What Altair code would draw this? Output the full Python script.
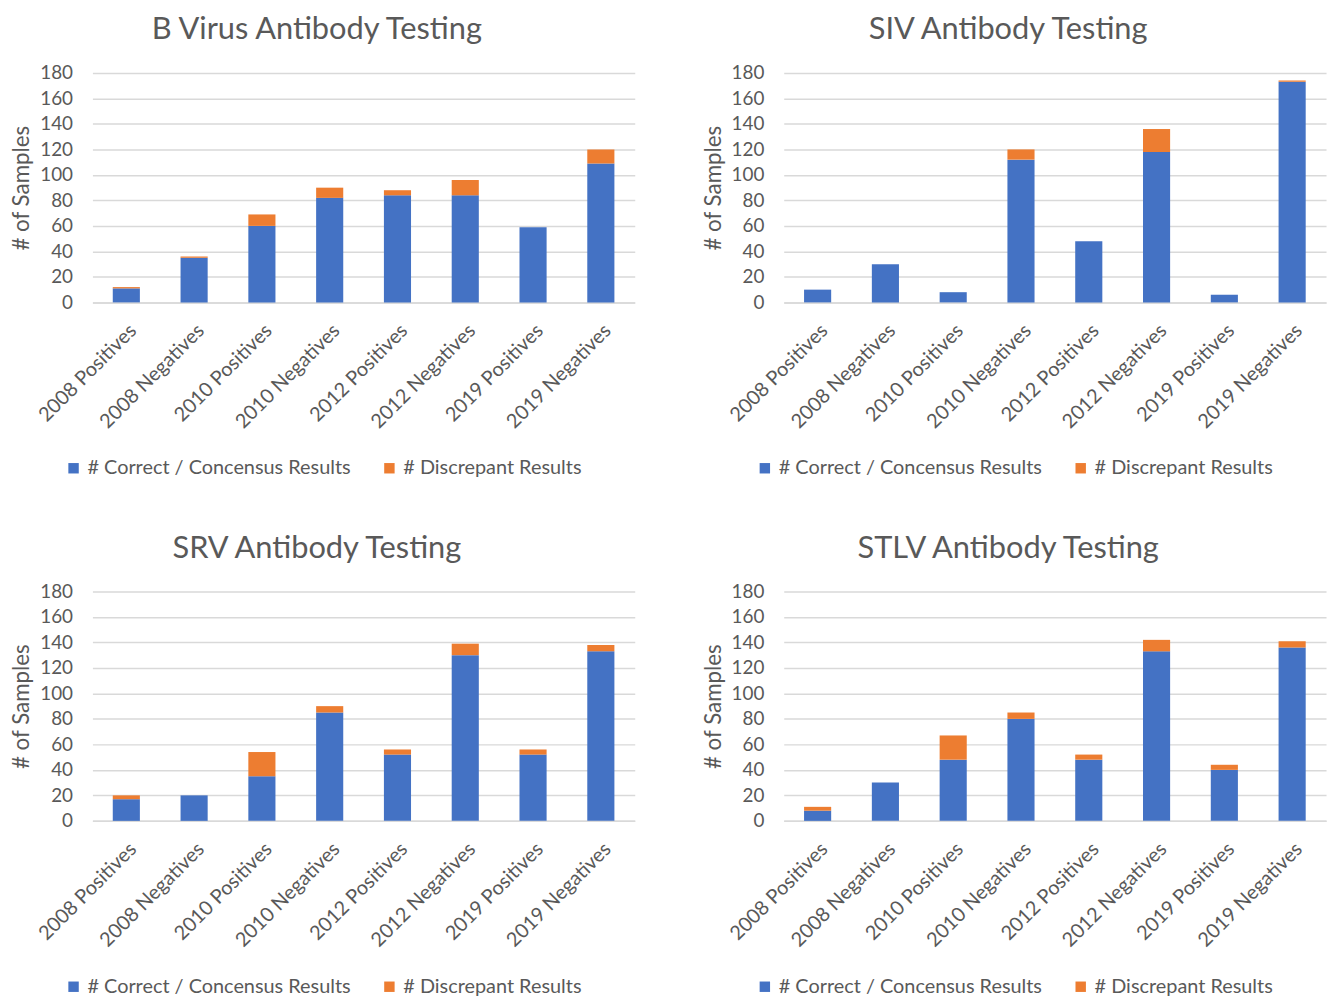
import altair as alt
import pandas as pd

categories = ["2008 Positives", "2008 Negatives", "2010 Positives", "2010 Negatives",
              "2012 Positives", "2012 Negatives", "2019 Positives", "2019 Negatives"]
series_names = ["# Correct / Concensus Results", "# Discrepant Results"]

titles = ["B Virus Antibody Testing", "SIV Antibody Testing",
          "SRV Antibody Testing", "STLV Antibody Testing"]

bvirus_correct = [11, 35, 60, 82, 84, 84, 59, 109]
bvirus_discrepant = [1, 1, 9, 8, 4, 12, 0, 11]

siv_correct = [10, 30, 8, 112, 48, 118, 6, 173]
siv_discrepant = [0, 0, 0, 8, 0, 18, 0, 1]

srv_correct = [17, 20, 35, 85, 52, 130, 52, 133]
srv_discrepant = [3, 0, 19, 5, 4, 9, 4, 5]

stlv_correct = [8, 30, 48, 80, 48, 133, 40, 136]
stlv_discrepant = [3, 0, 19, 5, 4, 9, 4, 5]

y_ticks = [0, 20, 40, 60, 80, 100, 120, 140, 160, 180]

panels = [
    (titles[0], bvirus_correct, bvirus_discrepant),
    (titles[1], siv_correct, siv_discrepant),
    (titles[2], srv_correct, srv_discrepant),
    (titles[3], stlv_correct, stlv_discrepant),
]

TEXT = "#595959"
GRID = "#D9D9D9"
COLORS = ["#4472C4", "#ED7D31"]
FONT = "Lato"


def make_panel(title, correct, discrepant):
    rows = []
    for c, a, b in zip(categories, correct, discrepant):
        rows.append({"cat": c, "series": series_names[0], "value": a, "ord": 0})
        rows.append({"cat": c, "series": series_names[1], "value": b, "ord": 1})
    df = pd.DataFrame(rows)
    return alt.Chart(df).mark_bar().encode(
        x=alt.X("cat:N", sort=categories,
                scale=alt.Scale(paddingInner=0.6, paddingOuter=0.3),
                axis=alt.Axis(title=None, labelAngle=-45, labelFontSize=20,
                              labelColor=TEXT, labelFont=FONT, ticks=False,
                              domain=True, domainColor=GRID, domainWidth=1.5,
                              labelPadding=18, grid=False)),
        y=alt.Y("value:Q", stack="zero",
                scale=alt.Scale(domain=[0, 180], nice=False),
                axis=alt.Axis(title="# of Samples", values=y_ticks, grid=True,
                              gridColor=GRID, gridWidth=1.5, domain=False,
                              ticks=False, labelFontSize=19, labelColor=TEXT,
                              labelFont=FONT, labelPadding=20,
                              titleFontSize=22.5, titleColor=TEXT,
                              titleFont=FONT, titleFontWeight="normal",
                              titlePadding=6)),
        color=alt.Color("series:N",
                        scale=alt.Scale(domain=series_names, range=COLORS),
                        legend=alt.Legend(title=None, orient="none",
                                          direction="horizontal",
                                          legendX=-29, legendY=388,
                                          symbolType="square", symbolSize=110,
                                          symbolStrokeWidth=0,
                                          labelFontSize=20, labelColor=TEXT,
                                          labelFont=FONT, labelLimit=400,
                                          labelOffset=4, columnPadding=28)),
        order=alt.Order("ord:Q"),
    ).properties(
        width=546, height=231,
        title=alt.TitleParams(title, fontSize=31, font=FONT, color=TEXT,
                              fontWeight="normal", anchor="middle",
                              frame="bounds", offset=18, dx=-6),
    )


charts = [make_panel(*p) for p in panels]

top = alt.hconcat(charts[0], charts[1], spacing=67).resolve_scale(color="independent")
bottom = alt.hconcat(charts[2], charts[3], spacing=67).resolve_scale(color="independent")

chart = alt.vconcat(top, bottom, spacing=55).resolve_scale(
    color="independent"
).properties(
    padding={"left": 2, "top": 3, "right": 5, "bottom": 5}
).configure(font=FONT).configure_view(stroke=None)

chart.save("out.html", embed_options={"renderer": "svg", "actions": False})
